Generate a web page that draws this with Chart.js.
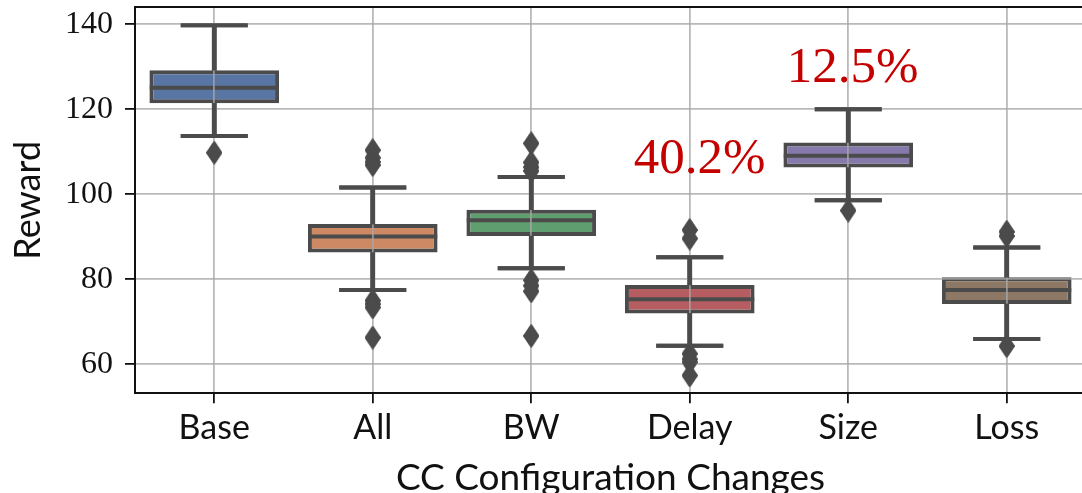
<!DOCTYPE html>
<html>
<head>
<meta charset="utf-8">
<title>Reward by CC configuration change</title>
<script src="https://cdn.jsdelivr.net/npm/chart.js@4/dist/chart.umd.min.js"></script>
<style>
  html, body { margin: 0; padding: 0; background: #ffffff; overflow: hidden; }
  #wrap { width: 1086px; height: 493px; }
</style>
</head>
<body>
<div id="wrap"><canvas id="chart" width="1086" height="493"></canvas></div>
<script>
// Box-plot summary per configuration change
const categories  = ['Base', 'All', 'BW', 'Delay', 'Size', 'Loss'];
const q1          = [121.4, 86.3, 90.2, 72.0, 106.3, 74.2];
const medians     = [125.1, 90.1, 93.9, 75.3, 109.1, 77.5];
const q3          = [129.2, 93.0, 96.4, 78.7, 112.2, 80.5];
const whiskerLow  = [113.7, 77.5, 82.6, 64.4, 98.6, 66.0];
const whiskerHigh = [139.8, 101.6, 104.1, 85.2, 120.0, 87.5];
const outliers = [
  [109.8],
  [110.4, 108.6, 107.6, 106.9, 75.0, 74.2, 73.4, 66.3],
  [112.0, 107.5, 106.4, 105.5, 79.8, 78.5, 77.2, 66.7],
  [91.6, 89.6, 62.5, 61.2, 60.5, 57.4],
  [96.2],
  [91.2, 90.2, 64.3]
];
const yTicks = [60, 80, 100, 120, 140];

// Percentage notes: text, category position, baseline value
const noteText  = ['40.2%', '12.5%'];
const notePos   = [3.063, 4.027];
const noteValue = [105.0, 126.4];

const boxColors = ['#5875a4', '#cc8963', '#5f9e6e', '#b55d60', '#857aab', '#8d7866'];
const lineGray = '#4b4b4b';
const gridColor = 'rgba(168,168,168,0.8)';

// Thin diamond marker used for fliers
function makeDiamond(w, h, color) {
  const c = document.createElement('canvas');
  c.width = w; c.height = h;
  const g = c.getContext('2d');
  g.fillStyle = color;
  g.beginPath();
  g.moveTo(w / 2, 0);
  g.lineTo(w, h / 2);
  g.lineTo(w / 2, h);
  g.lineTo(0, h / 2);
  g.closePath();
  g.fill();
  return c;
}
const diamond = makeDiamond(16, 24, lineGray);

const outlierPoints = [];
outliers.forEach((vals, i) => vals.forEach(v => outlierPoints.push({ x: categories[i], y: v })));

// Whiskers, caps and fliers sit above the grid; boxes and medians below it
const overGrid = {
  id: 'overGrid',
  afterDraw(chart) {
    const ctx = chart.ctx;
    chart.data.datasets.forEach((ds, i) => {
      if (!ds.overGrid) return;
      const meta = chart.getDatasetMeta(i);
      ctx.save();
      meta.controller.draw();
      ctx.restore();
    });
  }
};

const notes = {
  id: 'notes',
  afterDraw(chart) {
    const ctx = chart.ctx;
    const xs = chart.scales.x, ys = chart.scales.y;
    ctx.save();
    ctx.fillStyle = '#c40000';
    ctx.font = '51px "Liberation Serif"';
    ctx.textAlign = 'center';
    ctx.textBaseline = 'alphabetic';
    noteText.forEach((t, i) => {
      ctx.fillText(t, xs.getPixelForValue(notePos[i]), ys.getPixelForValue(noteValue[i]));
    });
    ctx.restore();
  }
};

function noOverflow(scale) {
  scale.paddingTop = 0; scale.paddingBottom = 0;
  scale.paddingLeft = 0; scale.paddingRight = 0;
}

new Chart(document.getElementById('chart'), {
  data: {
    labels: categories,
    datasets: [
      {
        type: 'line', label: 'fliers', data: outlierPoints, showLine: false,
        pointStyle: diamond, pointRadius: 12, pointHoverRadius: 12,
        order: 0, overGrid: true
      },
      {
        type: 'line', label: 'upper cap', data: whiskerHigh, showLine: false,
        pointStyle: 'line', pointRadius: 33.5, pointHoverRadius: 33.5,
        pointBorderColor: lineGray, pointBorderWidth: 4, pointHoverBorderWidth: 4,
        order: 1, overGrid: true
      },
      {
        type: 'line', label: 'lower cap', data: whiskerLow, showLine: false,
        pointStyle: 'line', pointRadius: 33.5, pointHoverRadius: 33.5,
        pointBorderColor: lineGray, pointBorderWidth: 4, pointHoverBorderWidth: 4,
        order: 1, overGrid: true
      },
      {
        type: 'bar', label: 'upper whisker', data: q3.map((v, i) => [v, whiskerHigh[i]]),
        backgroundColor: lineGray, borderWidth: 0, barThickness: 4, grouped: false,
        order: 2, overGrid: true
      },
      {
        type: 'bar', label: 'lower whisker', data: q1.map((v, i) => [whiskerLow[i], v]),
        backgroundColor: lineGray, borderWidth: 0, barThickness: 4, grouped: false,
        order: 2, overGrid: true
      },
      {
        type: 'line', label: 'median', data: medians, showLine: false,
        pointStyle: 'line', pointRadius: 64.5, pointHoverRadius: 64.5,
        pointBorderColor: lineGray, pointBorderWidth: 4, pointHoverBorderWidth: 4,
        order: 3
      },
      {
        type: 'bar', label: 'IQR', data: q1.map((v, i) => [v, q3[i]]),
        backgroundColor: boxColors, borderColor: lineGray, borderWidth: 4,
        borderSkipped: false, grouped: false,
        barPercentage: 0.818, categoryPercentage: 1.0,
        order: 4
      }
    ]
  },
  options: {
    responsive: false,
    animation: false,
    devicePixelRatio: 1,
    layout: { autoPadding: false, padding: { left: 0, right: 0, top: 7.3, bottom: 0 } },
    plugins: { legend: { display: false }, tooltip: { enabled: false } },
    events: [],
    scales: {
      x: {
        type: 'category',
        position: 'bottom',
        offset: true,
        grid: {
          offset: false, z: 1,
          color: gridColor, lineWidth: 1.8,
          tickColor: '#111', tickWidth: 1.8, tickLength: 10
        },
        border: { display: true, color: '#111', width: 2, z: 1 },
        ticks: {
          color: '#111', padding: 4,
          font: { family: 'Lato', size: 34, lineHeight: 1.2 }
        },
        title: {
          display: true, text: 'CC Configuration Changes', color: '#111',
          font: { family: 'Lato', size: 37, lineHeight: 0.8 },
          padding: { top: 0, bottom: 0.5 }
        },
        afterFit(scale) { scale.height = 493 - 393.3; noOverflow(scale); }
      },
      xTop: {
        type: 'category',
        position: 'top',
        offset: true,
        grid: { display: false, drawTicks: false },
        border: { display: true, color: '#111', width: 2, z: 1 },
        ticks: { display: false },
        afterFit(scale) { scale.height = 0; noOverflow(scale); }
      },
      y: {
        type: 'linear',
        min: 53.2,
        max: 144.0,
        grid: {
          z: 1,
          color: gridColor, lineWidth: 1.8,
          tickColor: '#111', tickWidth: 1.8, tickLength: 10
        },
        border: { display: true, color: '#111', width: 2, z: 1 },
        afterBuildTicks(scale) { scale.ticks = yTicks.map(v => ({ value: v })); },
        ticks: {
          color: '#111', padding: 12,
          font: { family: 'Liberation Serif', size: 32 }
        },
        title: {
          display: true, text: 'Reward', color: '#111',
          font: { family: 'Lato', size: 36, lineHeight: 1.2 },
          padding: { top: 7, bottom: 0 }
        },
        afterFit(scale) { scale.width = 135; noOverflow(scale); }
      }
    }
  },
  plugins: [overGrid, notes]
});
</script>
</body>
</html>
